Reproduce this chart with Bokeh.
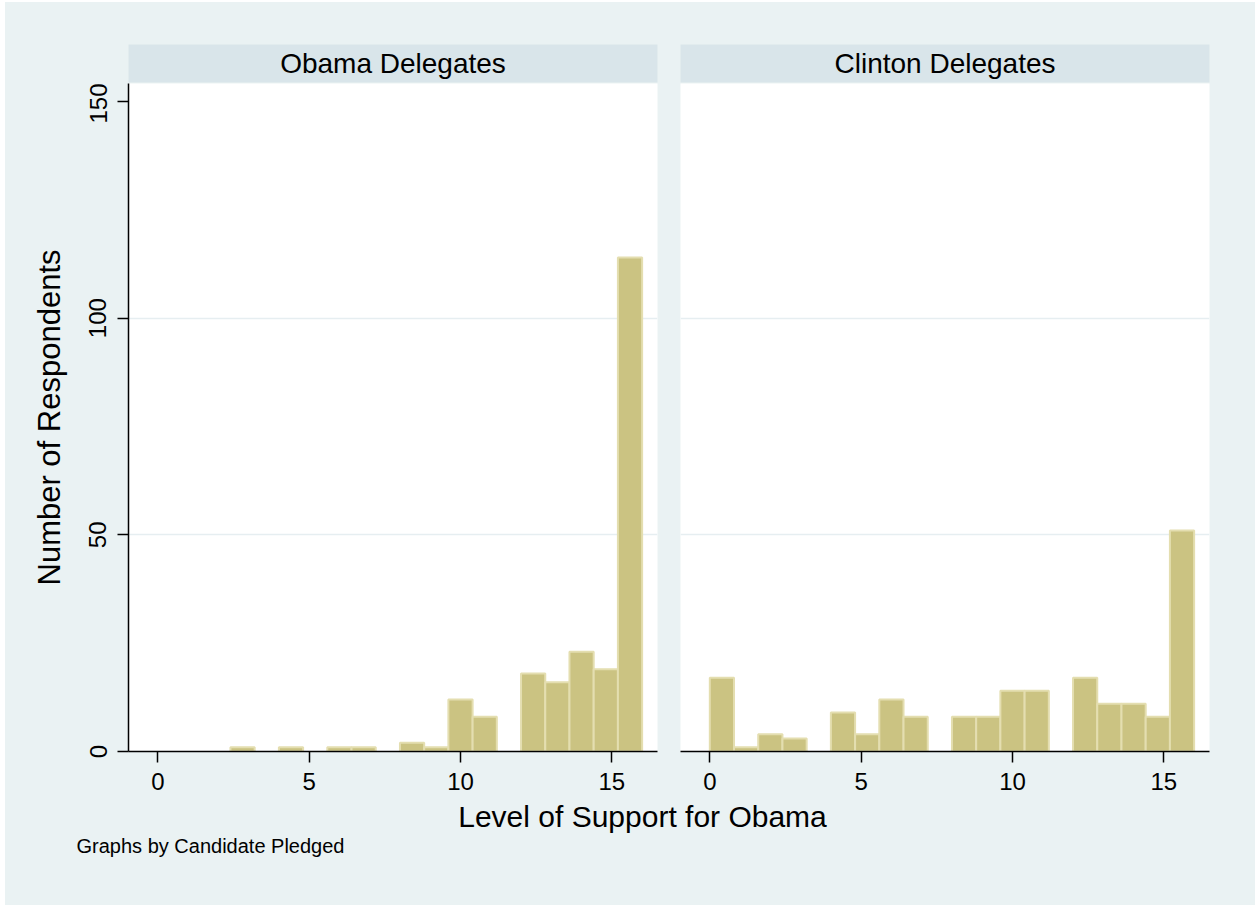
import numpy as np
from bokeh.plotting import figure
from bokeh.layouts import column, row
from bokeh.models import Range1d, FixedTicker, Label
from bokeh.embed import file_html
from bokeh.resources import INLINE

# Histogram data: counts per 0.8-wide bin starting at 0 (20 bins up to 16)
panel_titles = ["Obama Delegates", "Clinton Delegates"]
bin_start = 0.0
bin_width = 0.8
obama_counts = [0, 0, 0, 1, 0, 1, 0, 1, 1, 0, 2, 1, 12, 8, 0, 18, 16, 23, 19, 114]
clinton_counts = [17, 1, 4, 3, 0, 9, 4, 12, 8, 0, 8, 8, 14, 14, 0, 17, 11, 11, 8, 51]
x_ticks = [0, 5, 10, 15]
y_ticks = [0, 50, 100, 150]
grid_ticks = [50, 100]
x_title = "Level of Support for Obama"
y_title = "Number of Respondents"
note = "Graphs by Candidate Pledged"

# Styling
BG = "#EAF2F3"
STRIP = "#D9E5EA"
BAR_FILL = "#CBC382"
BAR_LINE = "#E4DEB0"
GRID = "#E6EEF1"
FONT = "Liberation Sans"
X0, X1 = -0.968, 16.508
Y1 = 154.15
FRAME_W, FRAME_H = 529, 668
PANEL_BOTTOM = 48
FOOT_H = 905 - 2 - 81 - FRAME_H - PANEL_BOTTOM
FOOT_TOP = 905 - FOOT_H


def bar_edges(counts):
    lefts, rights, tops = [], [], []
    for i, c in enumerate(counts):
        if c > 0:
            lefts.append(bin_start + i * bin_width)
            rights.append(bin_start + (i + 1) * bin_width)
            tops.append(c)
    return lefts, rights, tops


def make_strip(title, x_range, bl, br):
    s = figure(frame_width=FRAME_W, frame_height=38, x_range=x_range, y_range=Range1d(0, 1),
               min_border_left=bl, min_border_right=br, min_border_top=42, min_border_bottom=1,
               x_axis_location=None, y_axis_location=None, toolbar_location=None,
               output_backend="svg", background_fill_color=STRIP, border_fill_color=BG,
               outline_line_color=None)
    s.grid.visible = False
    s.add_layout(Label(x=(X0 + X1) / 2, y=0.5, text=title, text_align="center",
                       text_baseline="middle", text_font=FONT, text_font_size="28px",
                       text_color="black"))
    return s


def make_panel(counts, x_range, show_y, bl, br):
    p = figure(frame_width=FRAME_W, frame_height=FRAME_H, x_range=x_range,
               y_range=Range1d(0, Y1), min_border_left=bl, min_border_right=br,
               min_border_top=0, min_border_bottom=PANEL_BOTTOM,
               y_axis_location="left" if show_y else None,
               toolbar_location=None, output_backend="svg",
               background_fill_color="white", border_fill_color=BG, outline_line_color=None)
    lefts, rights, tops = bar_edges(counts)
    p.quad(left=lefts, right=rights, bottom=0, top=tops, fill_color=BAR_FILL,
           line_color=BAR_LINE, line_width=2)

    xa = p.xaxis[0]
    xa.ticker = FixedTicker(ticks=x_ticks)
    xa.major_tick_out = 11
    xa.major_tick_in = 0
    xa.minor_tick_line_color = None
    xa.axis_line_color = "black"
    xa.axis_line_width = 1.5
    xa.major_tick_line_width = 1.5
    xa.major_label_text_font = FONT
    xa.major_label_text_font_size = "24px"
    xa.major_label_text_color = "black"
    xa.major_label_standoff = 10

    if show_y:
        ya = p.yaxis[0]
        ya.ticker = FixedTicker(ticks=y_ticks)
        ya.major_tick_out = 11
        ya.major_tick_in = 0
        ya.minor_tick_line_color = None
        ya.axis_line_color = "black"
        ya.axis_line_width = 1.5
        ya.major_tick_line_width = 1.5
        ya.major_label_orientation = "vertical"
        ya.major_label_text_font = FONT
        ya.major_label_text_font_size = "24px"
        ya.major_label_text_color = "black"
        ya.major_label_standoff = 11
        ya.axis_label = y_title
        ya.axis_label_text_font = FONT
        ya.axis_label_text_font_size = "31px"
        ya.axis_label_text_font_style = "normal"
        ya.axis_label_text_color = "black"
        ya.axis_label_standoff = 20

    p.xgrid.visible = False
    p.ygrid.ticker = FixedTicker(ticks=grid_ticks)
    p.ygrid.grid_line_color = GRID
    p.ygrid.grid_line_width = 1.5
    return p


xr_left = Range1d(X0, X1)
xr_right = Range1d(X0, X1)

strip_l = make_strip(panel_titles[0], xr_left, 123, 11)
strip_r = make_strip(panel_titles[1], xr_right, 12, 46)
panel_l = make_panel(obama_counts, xr_left, True, 123, 11)
panel_r = make_panel(clinton_counts, xr_right, False, 12, 46)

# Shared footer: common x-axis title and by-variable note (pixel coordinates)
foot = figure(frame_width=1250, frame_height=FOOT_H, x_range=Range1d(5, 1255),
              y_range=Range1d(905, FOOT_TOP), min_border=0,
              x_axis_location=None, y_axis_location=None, toolbar_location=None,
              output_backend="svg", background_fill_color=BG, border_fill_color=BG,
              outline_line_color=None)
foot.grid.visible = False
foot.add_layout(Label(x=642, y=816, text=x_title, text_align="center",
                      text_baseline="alphabetic", text_font=FONT, text_font_size="30px",
                      text_color="black"))
foot.add_layout(Label(x=76, y=845, text=note, text_align="left",
                      text_baseline="alphabetic", text_font=FONT, text_font_size="20px",
                      text_color="black"))

bg_style = {"background-color": BG}
layout = column(row(strip_l, strip_r, styles=bg_style),
                row(panel_l, panel_r, styles=bg_style),
                foot, margin=(2, 0, 0, 5), styles=bg_style)

open("out.html", "w").write(file_html(layout, INLINE))
